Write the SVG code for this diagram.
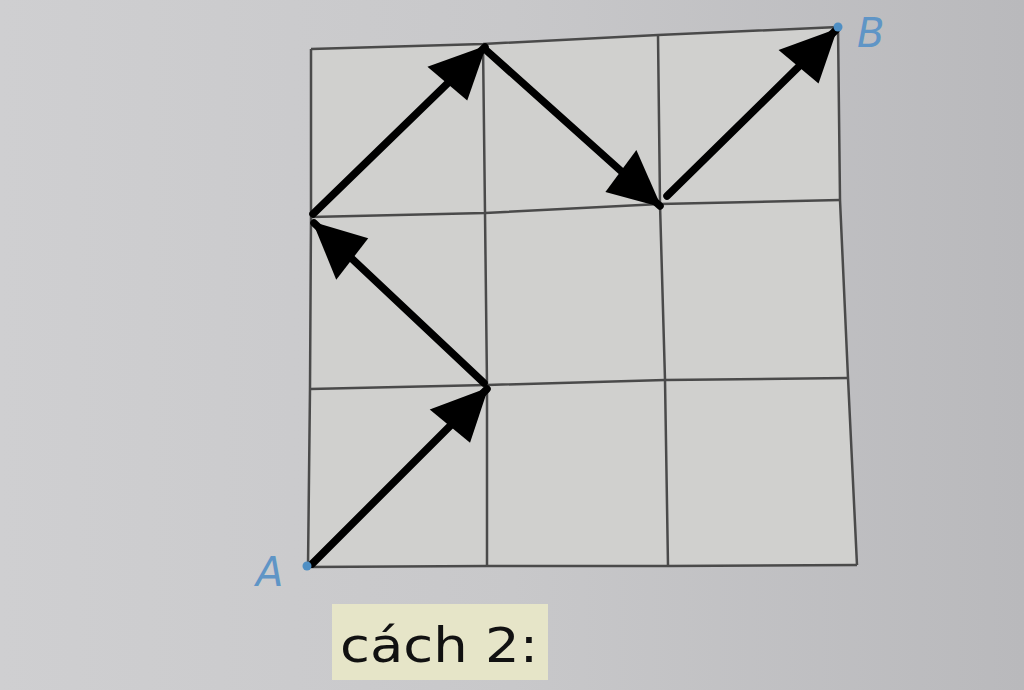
<svg xmlns="http://www.w3.org/2000/svg" width="1024" height="690" viewBox="0 0 1024 690">
<defs>
<linearGradient id="bg" x1="0" y1="0" x2="1" y2="0">
<stop offset="0" stop-color="#cfcfd1"/>
<stop offset="0.5" stop-color="#c8c8ca"/>
<stop offset="1" stop-color="#b9b9bc"/>
</linearGradient>
<marker id="ah" markerUnits="userSpaceOnUse" markerWidth="64" markerHeight="64" viewBox="-60 -32 64 64" refX="0" refY="0" orient="auto">
<path d="M2,0 L-55,-26 L-50,26 Z" fill="#000"/>
</marker>
<style>
.grid{fill:none;stroke:#4a4a4a;stroke-width:2.5;stroke-linejoin:round}
.arr{stroke:#000;stroke-width:7.5;stroke-linecap:round;fill:none;marker-end:url(#ah)}
.pt{fill:#4f8fc4}
.lbl{font-family:"DejaVu Sans","Liberation Sans",sans-serif;font-style:italic;font-size:40px;fill:#5f95c6}
</style>
</defs>
<rect width="1024" height="690" fill="url(#bg)"/>
<g id="board">
<polygon points="311,49 483,44 658,35 838,27 840,200 848,378 857,565 668,566 487,566 308,567 310,389 311,217" fill="#d0d0ce"/>
<polyline class="grid" points="311,49 483,44 658,35 838,27"/>
<polyline class="grid" points="311,217 485,213 660,204 840,200"/>
<polyline class="grid" points="310,389 487,385 665,380 848,378"/>
<polyline class="grid" points="308,567 487,566 668,566 857,565"/>
<polyline class="grid" points="311,49 311,217 310,389 308,567"/>
<polyline class="grid" points="483,44 485,213 487,385 487,566"/>
<polyline class="grid" points="658,35 660,204 665,380 668,566"/>
<polyline class="grid" points="838,27 840,200 848,378 857,565"/>
</g>
<g id="connectors">
<line class="arr" x1="312" y1="564" x2="487" y2="389"/>
<line class="arr" x1="484" y1="383" x2="314" y2="223"/>
<line class="arr" x1="313" y1="214" x2="485" y2="47"/>
<line class="arr" x1="487" y1="51" x2="660" y2="206"/>
<line class="arr" x1="667" y1="196" x2="836" y2="30"/>
</g>
<g id="pointA">
<circle class="pt" cx="307" cy="566" r="4.5"/>
<text class="lbl" x="256" y="586">A</text>
</g>
<g id="pointB">
<circle class="pt" cx="838" cy="27" r="4.5"/>
<text class="lbl" x="857" y="47">B</text>
</g>
<g id="caption">
<rect x="332" y="604" width="216" height="76" fill="#e6e5c8"/>
<text x="340" y="662" font-family="DejaVu Sans,Verdana,sans-serif" font-size="48" fill="#111" textLength="198" lengthAdjust="spacingAndGlyphs">cách 2:</text>
</g>
</svg>
